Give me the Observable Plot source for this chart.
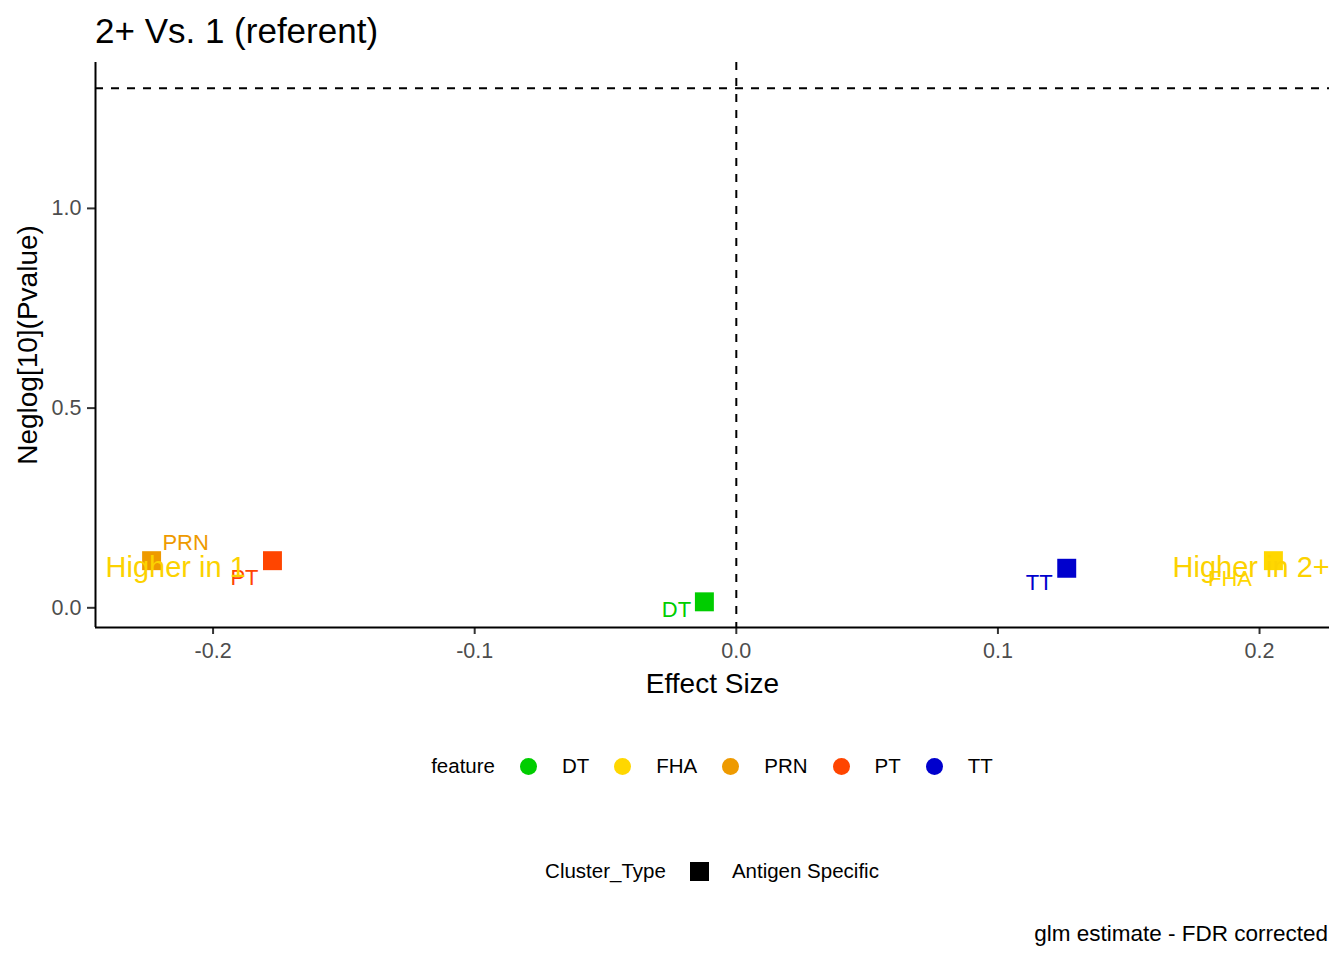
<!DOCTYPE html>
<html><head><meta charset="utf-8">
<script src="https://cdn.jsdelivr.net/npm/d3@7"></script>
<script src="https://cdn.jsdelivr.net/npm/@observablehq/plot@0.6"></script>
<style>
body{margin:0;background:#fff;font-family:"Liberation Sans",Arial,sans-serif;}
#wrap{position:relative;width:1344px;height:960px;overflow:hidden;background:#fff;}
.abs{position:absolute;white-space:nowrap;line-height:1;}
.legend{position:absolute;left:0;width:1424px;display:flex;justify-content:center;align-items:center;height:30px;font-size:20.5px;color:#000;line-height:1;}
</style></head><body><div id="wrap"></div>
<script>
// ---- data ----
const features = ["DT", "FHA", "PRN", "PT", "TT"];
const effectSize = [-0.0122, 0.2053, -0.2235, -0.1773, 0.1263];
const neglogP = [0.015, 0.118, 0.118, 0.118, 0.099];
const clusterType = ["Antigen Specific", "Antigen Specific", "Antigen Specific", "Antigen Specific", "Antigen Specific"];
// repelled label anchor positions (data units)
const labelEffect = [-0.0229, 0.1887, -0.2105, -0.1880, 0.1158];
const labelNeglog = [-0.005, 0.073, 0.163, 0.075, 0.063];
const annotationText = ["Higher in 1", "Higher in 2+"];
const annotationEffect = [-0.2143, 0.1968];
const annotationNeglog = [0.100, 0.100];
const xTicks = [-0.2, -0.1, 0.0, 0.1, 0.2];
const yTicks = [0.0, 0.5, 1.0];
const pThreshold = 0.05;
const titleText = "2+ Vs. 1 (referent)";
const xLabel = "Effect Size";
const yLabel = "Neglog[10](Pvalue)";
const captionText = "glm estimate - FDR corrected";

// ---- tables ----
const rows = features.map((f, i) => ({feature: f, effect: effectSize[i], neglog: neglogP[i], cluster: clusterType[i], lx: labelEffect[i], ly: labelNeglog[i]}));
const annots = annotationText.map((t, i) => ({text: t, x: annotationEffect[i], y: annotationNeglog[i]}));
const hline = -Math.log10(pThreshold);

function expand(ext) { const s = ext[1] - ext[0]; return [ext[0] - 0.05 * s, ext[1] + 0.05 * s]; }
const xDomain = expand(d3.extent(effectSize));
const yDomain = expand(d3.extent([...neglogP, hline]));

const colorRange = ["#00CD00", "#FFD700", "#EE9A00", "#FF4500", "#0000CD"];
const fmt = d => d.toFixed(1);

const plot = Plot.plot({
  width: 1344, height: 720,
  marginTop: 62, marginBottom: 93, marginLeft: 95, marginRight: 15,
  x: {domain: xDomain},
  y: {domain: yDomain},
  color: {domain: features, range: colorRange},
  style: {fontFamily: "'Liberation Sans', Arial, sans-serif", background: "white", overflow: "visible"},
  marks: [
    Plot.axisX(xTicks, {tickSize: 7, tickPadding: 8, fontSize: 21.5, tickFormat: fmt, stroke: "#333333", fill: "#4D4D4D", strokeWidth: 2, label: null}),
    Plot.axisY(yTicks, {tickSize: 8, tickPadding: 6, fontSize: 21.5, tickFormat: fmt, stroke: "#333333", fill: "#4D4D4D", strokeWidth: 2, label: null}),
    Plot.ruleX([0], {stroke: "#000", strokeWidth: 2, strokeDasharray: "8,8"}),
    Plot.ruleY([hline], {stroke: "#000", strokeWidth: 2, strokeDasharray: "8,8"}),
    Plot.ruleX([xDomain[0]], {stroke: "#000", strokeWidth: 2}),
    Plot.ruleY([yDomain[0]], {stroke: "#000", strokeWidth: 2}),
    Plot.dot(rows, {x: "effect", y: "neglog", fill: "feature", symbol: "square", r: 10.7}),
    Plot.text(rows, {x: "lx", y: "ly", text: "feature", fill: "feature", fontSize: 22}),
    Plot.text(annots, {x: "x", y: "y", text: "text", fill: "#FCD200", fontSize: 29}),
    Plot.text([xLabel], {frameAnchor: "bottom", dy: 65, lineAnchor: "bottom", fontSize: 28, fill: "#000"}),
    Plot.text([yLabel], {frameAnchor: "left", textAnchor: "middle", dx: -59, rotate: -90, lineAnchor: "bottom", fontSize: 28, fill: "#000"})
  ]
});

const wrap = document.getElementById("wrap");
plot.style.position = "absolute";
plot.style.left = "0px";
plot.style.top = "0px";
wrap.appendChild(plot);

const title = document.createElement("div");
title.className = "abs";
title.style.cssText = "left:95px;top:13px;font-size:35px;color:#000;";
title.textContent = titleText;
wrap.appendChild(title);

// feature legend
const color = plot.scale("color");
const cfun = d3.scaleOrdinal(color.domain, color.range);
const leg1 = document.createElement("div");
leg1.className = "legend";
leg1.style.top = (766 - 15) + "px";
let html = `<span style="margin-right:25px">feature</span>`;
features.forEach((f, i) => {
  html += `<span style="display:inline-block;width:17px;height:17px;border-radius:50%;background:${cfun(f)};margin-right:25px"></span><span style="margin-right:${i < features.length - 1 ? 25 : 0}px">${f}</span>`;
});
leg1.innerHTML = html;
wrap.appendChild(leg1);

// cluster legend
const clusters = Array.from(new Set(clusterType));
const leg2 = document.createElement("div");
leg2.className = "legend";
leg2.style.top = (871 - 15) + "px";
let html2 = `<span style="margin-right:24px">Cluster_Type</span>`;
clusters.forEach(c => {
  html2 += `<span style="display:inline-block;width:19px;height:19px;background:#000;margin-right:23px"></span><span>${c}</span>`;
});
leg2.innerHTML = html2;
wrap.appendChild(leg2);

const cap = document.createElement("div");
cap.className = "abs";
cap.style.cssText = "right:16px;top:923px;font-size:22.5px;color:#000;";
cap.textContent = captionText;
wrap.appendChild(cap);
</script></body></html>
